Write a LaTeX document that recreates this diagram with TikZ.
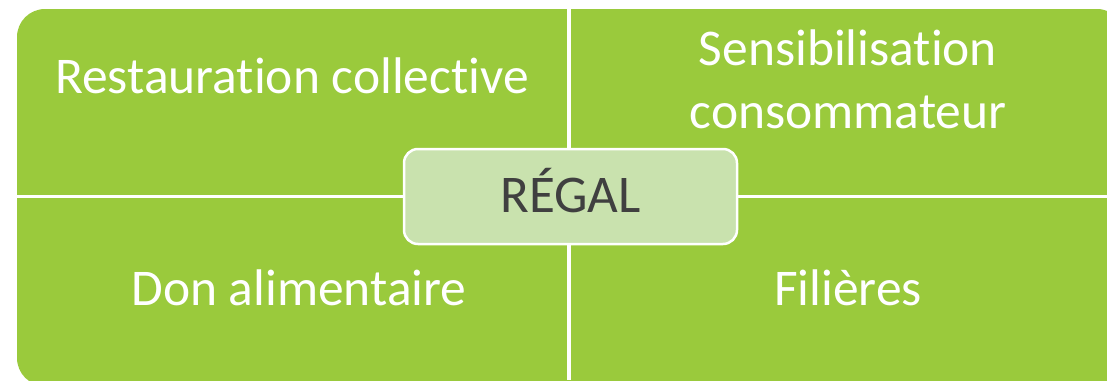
\documentclass[tikz,border=0pt]{standalone}
\usepackage{fontspec}
\setmainfont{Carlito}[Ligatures=NoCommon]
\usepackage{xcolor}
\definecolor{quadgreen}{HTML}{9ACA3C}
\definecolor{centregreen}{HTML}{C9E2AE}
\definecolor{textgrey}{HTML}{404040}
\tikzset{quad text/.style={text=white,font=\fontsize{51.5}{63}\selectfont,align=center,anchor=base,inner sep=0pt},
    centre box/.style={draw=white,line width=2.5pt,fill=centregreen,rounded corners=14pt,
        minimum width=333pt,minimum height=95pt,text height=31pt,text depth=0pt,
        text=textgrey,font=\fontsize{53}{63}\selectfont},
    separator/.style={draw=white}}

\begin{document}
\begin{tikzpicture}[x=1pt,y=-1pt]
\useasboundingbox (0,0) rectangle (1107,380);
\fill[quadgreen,rounded corners=28pt] (17,9) rectangle (1125,386);
% separators
\coordinate (top) at (569,9);
\coordinate (bottom) at (569,380);
\coordinate (left) at (17,196.5);
\coordinate (right) at (1107,196.5);
\draw[separator,line width=4pt] (top) -- (bottom);
\draw[separator,line width=3pt] (left) -- (right);
% quadrant texts
\node[quad text] (restauration) at (292,93) {Restauration collective};
\node[quad text] (sensibilisation) at (848,128) {Sensibilisation\\consommateur};
\node[quad text] (don) at (299,305) {Don alimentaire};
\node[quad text] (filieres) at (848,305) {Filières};
% centre
\node[centre box] (regal) at (570.5,196.5) {RÉGAL};
\end{tikzpicture}
\end{document}
